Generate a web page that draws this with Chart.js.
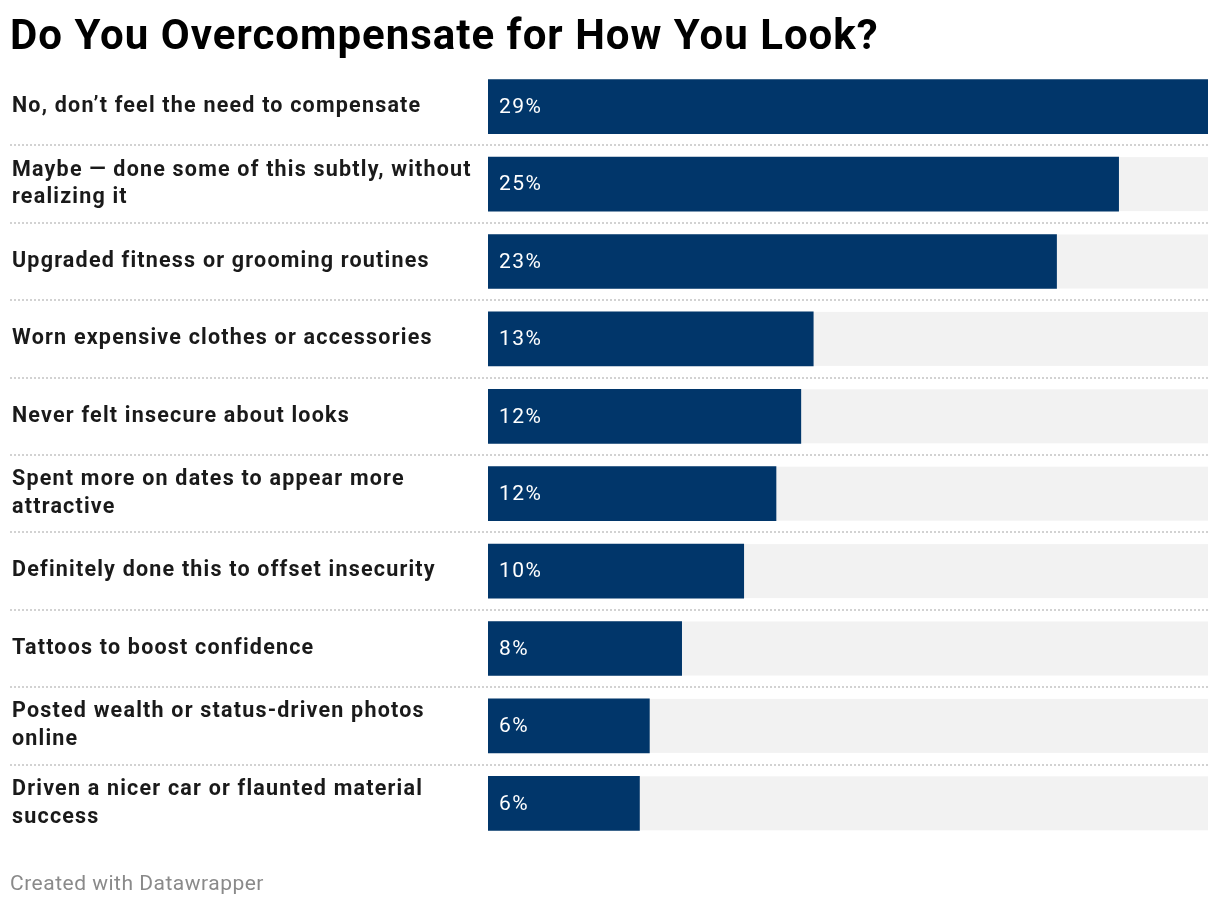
<!DOCTYPE html>
<html><head><meta charset="utf-8">
<script src="https://cdn.jsdelivr.net/npm/chart.js@4"></script>
<style>
body{margin:0;background:#fff;width:1220px;height:910px;overflow:hidden;font-family:Roboto,sans-serif;}
#title{position:absolute;left:10px;top:13px;font-size:42px;font-weight:700;color:#000;line-height:44px;white-space:nowrap;letter-spacing:1px;}
#footer{position:absolute;left:10px;top:870px;font-size:21px;color:#8a8a8a;line-height:26px;letter-spacing:0.5px;}
#wrap{position:absolute;left:0;top:0;width:1220px;height:910px;}
</style></head><body>
<div id="wrap"><canvas id="c" width="1220" height="910"></canvas></div>
<div id="title">Do You Overcompensate for How You Look?</div>
<div id="footer">Created with Datawrapper</div>
<script>
const categories = [
  ["No, don’t feel the need to compensate"],
  ["Maybe — done some of this subtly, without", "realizing it"],
  ["Upgraded fitness or grooming routines"],
  ["Worn expensive clothes or accessories"],
  ["Never felt insecure about looks"],
  ["Spent more on dates to appear more", "attractive"],
  ["Definitely done this to offset insecurity"],
  ["Tattoos to boost confidence"],
  ["Posted wealth or status-driven photos", "online"],
  ["Driven a nicer car or flaunted material", "success"]
];
const values = [29, 25.4, 22.9, 13.1, 12.6, 11.6, 10.3, 7.8, 6.5, 6.1];
const valueLabels = ["29%", "25%", "23%", "13%", "12%", "12%", "10%", "8%", "6%", "6%"];
const axisMax = 29;

const trackPlugin = {
  id: 'track',
  beforeDraw(chart) {
    chart.ctx.letterSpacing = '1.2px';
  },
  beforeDatasetsDraw(chart) {
    const ctx = chart.ctx, area = chart.chartArea;
    const meta = chart.getDatasetMeta(0);
    ctx.save();
    ctx.fillStyle = '#f2f2f2';
    meta.data.forEach(b => {
      ctx.fillRect(area.left, b.y - b.height / 2, area.right - area.left, b.height);
    });
    // separators
    const y = chart.scales.y;
    ctx.strokeStyle = '#d2d2d2';
    ctx.lineWidth = 2;
    ctx.setLineDash([2, 2]);
    for (let i = 0; i < categories.length - 1; i++) {
      const yy = Math.round((y.getPixelForValue(i) + y.getPixelForValue(i + 1)) / 2);
      ctx.beginPath();
      ctx.moveTo(10, yy);
      ctx.lineTo(area.right, yy);
      ctx.stroke();
    }
    ctx.restore();
  },
  afterDatasetsDraw(chart) {
    const ctx = chart.ctx;
    const meta = chart.getDatasetMeta(0);
    ctx.save();
    ctx.fillStyle = '#ffffff';
    ctx.font = '400 21px Roboto';
    ctx.letterSpacing = '1.5px';
    ctx.textAlign = 'left';
    ctx.textBaseline = 'middle';
    meta.data.forEach((b, i) => {
      ctx.fillText(valueLabels[i], b.base + 11, b.y + 1);
    });
    ctx.restore();
  }
};

new Chart(document.getElementById('c'), {
  type: 'bar',
  data: {
    labels: categories,
    datasets: [{
      data: values,
      backgroundColor: '#01366a',
      barThickness: 54,
      borderWidth: 0
    }]
  },
  options: {
    indexAxis: 'y',
    responsive: false,
    animation: false,
    layout: { padding: { top: 68, bottom: 68, left: 12, right: 12 } },
    plugins: { legend: { display: false }, tooltip: { enabled: false } },
    scales: {
      x: { display: false, min: 0, max: axisMax },
      y: {
        grid: { display: false },
        border: { display: false },
        afterFit(scale) { scale.width = 476; },
        ticks: {
          crossAlign: 'far',
          color: '#1a1a1a',
          font: { family: 'Roboto', size: 21.5, weight: '700', lineHeight: 1.3 }
        }
      }
    }
  },
  plugins: [trackPlugin]
});
</script>
</body></html>
